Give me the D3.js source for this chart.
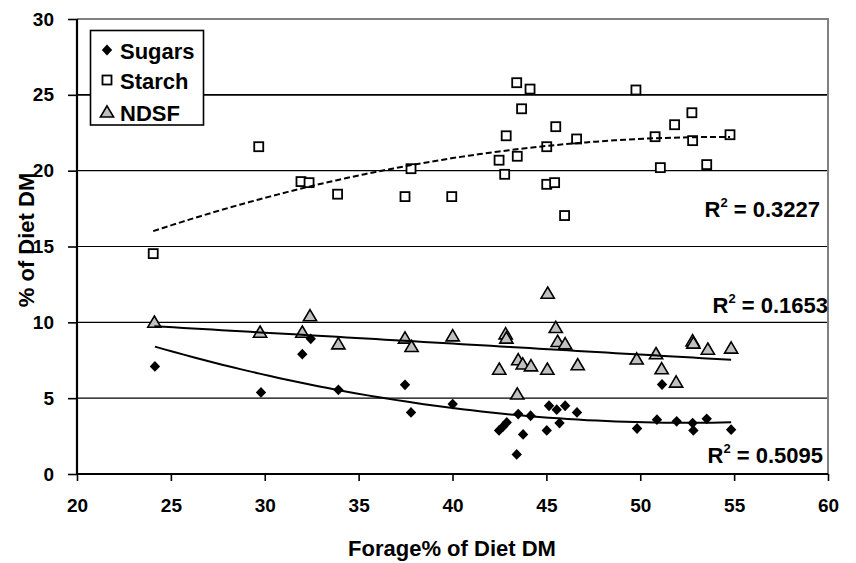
<!DOCTYPE html>
<html><head><meta charset="utf-8">
<script src="https://cdn.jsdelivr.net/npm/d3@7"></script>
<style>body{margin:0;background:#fff}text{font-family:"Liberation Sans",Arial,sans-serif;font-weight:bold;fill:#000}</style>
</head><body><svg id="c" width="856" height="563"></svg>
<script>
// ---- data ----
const seriesNames = ["Sugars", "Starch", "NDSF"];
const sugars = [[24.15,7.09],[29.8,5.38],[32.0,7.9],[32.45,8.91],[33.92,5.55],[37.47,5.88],[37.79,4.06],[40.01,4.61],[42.48,2.87],[42.7,3.14],[42.89,3.4],[43.42,1.29],[43.5,3.95],[43.76,2.61],[44.16,3.84],[45.02,2.87],[45.14,4.5],[45.55,4.24],[45.7,3.36],[46.0,4.5],[46.63,4.06],[49.83,3.0],[50.89,3.58],[51.16,5.9],[51.94,3.47],[52.79,3.36],[52.83,2.87],[53.54,3.64],[54.84,2.92]];
const starch = [[24.06,14.53],[29.68,21.58],[31.93,19.28],[32.36,19.21],[33.88,18.45],[37.47,18.29],[37.79,20.13],[39.96,18.29],[42.48,20.69],[42.78,19.76],[42.86,22.3],[43.42,25.8],[43.45,20.95],[43.68,24.08],[44.13,25.38],[45.02,21.58],[45.02,19.1],[45.44,19.21],[45.5,22.9],[45.97,17.04],[46.61,22.09],[49.77,25.32],[50.79,22.24],[51.07,20.2],[51.83,23.03],[52.75,23.82],[52.79,21.98],[53.54,20.4],[54.78,22.37]];
const ndsf = [[24.12,10.01],[29.75,9.35],[32.0,9.35],[32.41,10.43],[33.92,8.58],[37.47,8.96],[37.82,8.41],[40.01,9.11],[42.49,6.91],[42.83,9.24],[42.87,8.96],[43.45,5.27],[43.5,7.53],[43.74,7.25],[44.18,7.13],[45.05,6.91],[45.07,11.92],[45.5,9.66],[45.6,8.74],[46.0,8.58],[46.67,7.2],[49.81,7.58],[50.84,7.93],[51.14,6.94],[51.91,6.06],[52.79,8.78],[52.83,8.63],[53.6,8.23],[54.84,8.3]];
const trendDegree = [2, 2, 1];           // Sugars, Starch: polynomial(2); NDSF: linear
const r2Values = ["0.5095", "0.3227", "0.1653"];
const xTicks = [20,25,30,35,40,45,50,55,60];
const yTicks = [0,5,10,15,20,25,30];
const xTitle = "Forage% of Diet DM";
const yTitle = "% of Diet DM";

// ---- layout ----
const L = 77, R = 828, T = 19, B = 474;
const svg = d3.select("#c");
const x = d3.scaleLinear().domain([20,60]).range([L,R]);
const y = d3.scaleLinear().domain([0,30]).range([B,T]);

// gridlines
svg.append("g").selectAll("line").data(yTicks.filter(v=>v>0 && v<30)).join("line")
  .attr("x1",L).attr("x2",R).attr("y1",d=>y(d)).attr("y2",d=>y(d))
  .attr("stroke","#000").attr("stroke-width",d=>d===25?1.6:1.1);
// top/right plot border (gray)
svg.append("path").attr("d",`M${L},${T}H${R}V${B}`).attr("fill","none").attr("stroke","#808080").attr("stroke-width",2);

// axes
const yAxis = svg.append("g").attr("transform",`translate(${L},0)`)
  .call(d3.axisLeft(y).tickValues(yTicks).tickSize(9).tickPadding(14));
const xAxis = svg.append("g").attr("transform",`translate(0,${B})`)
  .call(d3.axisBottom(x).tickValues(xTicks).tickSize(7).tickPadding(18));
[yAxis,xAxis].forEach(a=>{
  a.select(".domain").attr("stroke","#000").attr("stroke-width",2.2);
  a.selectAll(".tick line").attr("stroke","#000").attr("stroke-width",1.6);
  a.selectAll(".tick text").style("font-size","19px").style("font-family","'Liberation Sans',Arial,sans-serif").style("font-weight","bold").attr("fill","#000");
});
yAxis.select(".domain").attr("d",`M0,${B}V${T}`);
xAxis.select(".domain").attr("d",`M${L},0H${R}`);

// titles
svg.append("text").attr("x",452).attr("y",556).attr("text-anchor","middle").style("font-size","22px").text(xTitle);
svg.append("text").attr("transform","translate(34,240) rotate(-90)").attr("text-anchor","middle").style("font-size","22px").text(yTitle);

// markers
const diamond = "M0,-5.4L5.2,0L0,5.4L-5.2,0Z";
const tri = "M0,-6.2L6.6,5L-6.6,5Z";
svg.append("g").selectAll("path").data(sugars).join("path")
  .attr("d",diamond).attr("transform",d=>`translate(${x(d[0])},${y(d[1])})`).attr("fill","#000");
svg.append("g").selectAll("rect").data(starch).join("rect")
  .attr("x",d=>x(d[0])-4.5).attr("y",d=>y(d[1])-4.5).attr("width",9).attr("height",9)
  .attr("fill","#fff").attr("stroke","#000").attr("stroke-width",1.8);
svg.append("g").selectAll("path").data(ndsf).join("path")
  .attr("d",tri).attr("transform",d=>`translate(${x(d[0])},${y(d[1])})`)
  .attr("fill","#c0c0c0").attr("stroke","#000").attr("stroke-width",1.6);

// least-squares polynomial trendlines
function polyfit(pts, deg){
  const n = deg+1, c0 = 40;
  const A = Array.from({length:n},()=>new Array(n).fill(0)), b = new Array(n).fill(0);
  pts.forEach(([px,py])=>{const u=px-c0;
    for(let i=0;i<n;i++){b[i]+=py*Math.pow(u,i);for(let j=0;j<n;j++)A[i][j]+=Math.pow(u,i+j);}});
  for(let i=0;i<n;i++){for(let k=i+1;k<n;k++){const f=A[k][i]/A[i][i];for(let j=i;j<n;j++)A[k][j]-=f*A[i][j];b[k]-=f*b[i];}}
  const c=new Array(n).fill(0);
  for(let i=n-1;i>=0;i--){let s=b[i];for(let j=i+1;j<n;j++)s-=A[i][j]*c[j];c[i]=s/A[i][i];}
  return v=>{const u=v-c0;let s=0;for(let i=0;i<n;i++)s+=c[i]*Math.pow(u,i);return s;};
}
const line = d3.line().x(d=>x(d[0])).y(d=>y(d[1]));
[sugars, starch, ndsf].forEach((s,i)=>{
  const f = polyfit(s, trendDegree[i]);
  const [x0,x1] = d3.extent(s,d=>d[0]);
  const pts = d3.range(0,61).map(k=>{const v=x0+(x1-x0)*k/60;return [v,f(v)];});
  svg.append("path").attr("d",line(pts)).attr("fill","none").attr("stroke","#000")
    .attr("stroke-width",2).attr("stroke-dasharray",i===1?"6,3":null);
});

// R² labels
const r2Pos = [[823,463],[820,217],[828,313]];
r2Values.forEach((v,i)=>{
  const t = svg.append("text").attr("x",r2Pos[i][0]).attr("y",r2Pos[i][1]).attr("text-anchor","end").style("font-size","22px");
  t.append("tspan").text("R");
  t.append("tspan").attr("dy",-10).style("font-size","13px").text("2");
  t.append("tspan").attr("dy",10).text(" = "+v);
});

// legend
const lg = svg.append("g");
lg.append("rect").attr("x",90.5).attr("y",30.5).attr("width",113).attr("height",94.5)
  .attr("fill","#fff").attr("stroke","#000").attr("stroke-width",1.6);
const ly = [50,80,112];
lg.append("path").attr("d",diamond).attr("transform",`translate(107,${ly[0]})`).attr("fill","#000");
lg.append("rect").attr("x",102.5).attr("y",ly[1]-4.5).attr("width",9).attr("height",9).attr("fill","#fff").attr("stroke","#000").attr("stroke-width",1.8);
lg.append("path").attr("d",tri).attr("transform",`translate(107,${ly[2]})`).attr("fill","#c0c0c0").attr("stroke","#000").attr("stroke-width",1.6);
seriesNames.forEach((nm,i)=>{
  lg.append("text").attr("x",120).attr("y",ly[i]+9).style("font-size","22px").text(nm);
});
</script>
</body></html>
